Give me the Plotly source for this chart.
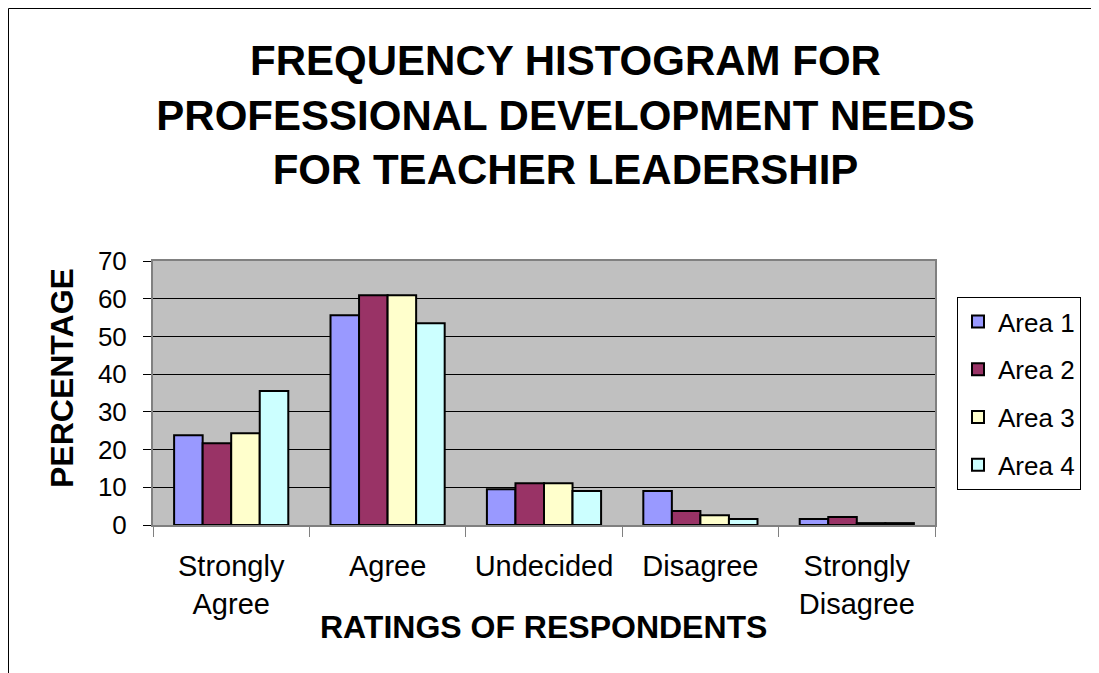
import plotly.graph_objects as go

# ratings on the x axis
categories = ['Strongly<br>Agree', 'Agree', 'Undecided', 'Disagree', 'Strongly<br>Disagree']
series_names = ['Area 1', 'Area 2', 'Area 3', 'Area 4']

# percentage of respondents per area
area1 = [23.8, 55.6, 9.5, 9.0, 1.6]
area2 = [21.7, 60.9, 11.1, 3.7, 2.1]
area3 = [24.3, 60.9, 11.1, 2.6, 0.5]
area4 = [35.5, 53.5, 9.0, 1.6, 0.5]

y_ticks = [0, 10, 20, 30, 40, 50, 60, 70]

colors = ['#9999FF', '#993366', '#FFFFCC', '#CCFFFF']
FONT = 'Arial, Liberation Sans, sans-serif'

# page body adds an 8px offset, so the figure is a bit smaller than the window
W, H = 1091, 665
L, R, T, B = 145, 164, 253, 148
PW, PH = W - L - R, H - T - B

fig = go.Figure()
for name, vals, col in zip(series_names, [area1, area2, area3, area4], colors):
    fig.add_trace(go.Bar(x=categories, y=vals, name=name, legendgroup=name,
                         marker=dict(color=col, line=dict(color='black', width=2))))

fig.update_layout(
    width=W, height=H,
    margin=dict(l=L, r=R, t=T, b=B, autoexpand=False),
    paper_bgcolor='white', plot_bgcolor='#C0C0C0',
    font=dict(family=FONT, color='black'),
    barmode='group', bargap=0.27, bargroupgap=0,
    title=dict(text='<b>FREQUENCY HISTOGRAM FOR<br>PROFESSIONAL DEVELOPMENT NEEDS<br>FOR TEACHER LEADERSHIP</b>',
               x=0.511, xanchor='center', xref='container',
               y=1 - 67 / H, yanchor='top', yref='container',
               font=dict(size=42, family=FONT, color='black')),
    legend=dict(x=(949 - L) / PW, y=(H - B - 289) / PH, xanchor='left', yanchor='top',
                bgcolor='white', bordercolor='black', borderwidth=1,
                font=dict(size=26, family=FONT), tracegroupgap=11),
    showlegend=True,
)

fig.update_xaxes(showline=True, linecolor='#808080', linewidth=2, mirror=True,
                 ticks='outside', tickson='boundaries', ticklen=10, tickcolor='#808080',
                 tickfont=dict(size=29, family=FONT), ticklabelstandoff=14,
                 showgrid=False)
fig.update_yaxes(range=[0, 70], tickvals=y_ticks, showline=True, linecolor='#808080',
                 linewidth=2, mirror=True, ticks='outside', ticklen=8, tickcolor='black',
                 tickfont=dict(size=26, family=FONT), ticklabelstandoff=11,
                 showgrid=True, gridcolor='black', gridwidth=1, zeroline=False)

# axis titles
fig.add_annotation(text='<b>RATINGS OF RESPONDENTS</b>', xref='paper', yref='paper',
                   x=(543 - 153) / PW, y=(525 - 627) / PH, xanchor='center', yanchor='middle',
                   showarrow=False, font=dict(size=32, family=FONT))
fig.add_annotation(text='<b>PERCENTAGE</b>', xref='paper', yref='paper', textangle=-90,
                   x=(62 - 153) / PW, y=(525 - 378) / PH, xanchor='center', yanchor='middle',
                   showarrow=False, font=dict(size=32, family=FONT))

# outer chart frame (only top and left edges are visible)
fig.add_shape(type='rect', xref='paper', yref='paper',
              x0=(0.5 - L) / PW, x1=(W + 20 - L) / PW,
              y0=(H - B - H - 20) / PH, y1=(H - B - 0.5) / PH,
              line=dict(color='black', width=1), layer='below')

fig.write_html('out.html')
